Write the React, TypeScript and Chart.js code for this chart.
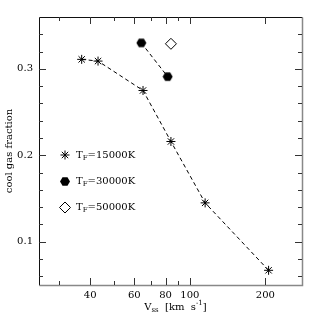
import React, { useEffect, useRef } from "react";
import { Chart, registerables } from "chart.js";

Chart.register(...registerables);

const v15 = [37, 43, 65, 84, 115, 206];
const f15 = [0.311, 0.309, 0.275, 0.216, 0.145, 0.067];
const v30 = [64, 81.5];
const f30 = [0.33, 0.291];
const v50 = [84];
const f50 = [0.329];

const xMajor = [40, 60, 80, 100, 200];
const xMinor = [30, 50, 70, 90];
const yMajor = [0.1, 0.2, 0.3];
const yMinor = [0.06, 0.08, 0.12, 0.14, 0.16, 0.18, 0.22, 0.24, 0.26, 0.28, 0.32, 0.34];
const legendTemps = ["15000K", "30000K", "50000K"];

const FONT = "DejaVu Serif";

function makeHexagon(): HTMLCanvasElement {
  const c = document.createElement("canvas");
  c.width = 11;
  c.height = 11;
  const ctx = c.getContext("2d")!;
  drawHex(ctx, 5.5, 5.5, 5);
  return c;
}

function drawHex(ctx: CanvasRenderingContext2D, x: number, y: number, r: number) {
  ctx.save();
  ctx.fillStyle = "#000";
  ctx.beginPath();
  for (let i = 0; i < 6; i++) {
    const a = (Math.PI / 3) * i;
    const px = x + r * Math.cos(a);
    const py = y + r * Math.sin(a);
    if (i === 0) ctx.moveTo(px, py);
    else ctx.lineTo(px, py);
  }
  ctx.closePath();
  ctx.fill();
  ctx.restore();
}

function drawStar(ctx: CanvasRenderingContext2D, x: number, y: number, r: number) {
  ctx.save();
  ctx.strokeStyle = "#000";
  ctx.lineWidth = 1;
  ctx.beginPath();
  for (let i = 0; i < 4; i++) {
    const a = (Math.PI / 4) * i;
    ctx.moveTo(x - r * Math.cos(a), y - r * Math.sin(a));
    ctx.lineTo(x + r * Math.cos(a), y + r * Math.sin(a));
  }
  ctx.stroke();
  ctx.restore();
}

function drawDiamond(ctx: CanvasRenderingContext2D, x: number, y: number, r: number) {
  ctx.save();
  ctx.strokeStyle = "#000";
  ctx.lineWidth = 1;
  ctx.beginPath();
  ctx.moveTo(x - r, y);
  ctx.lineTo(x, y - r);
  ctx.lineTo(x + r, y);
  ctx.lineTo(x, y + r);
  ctx.closePath();
  ctx.stroke();
  ctx.restore();
}

const decorPlugin = {
  id: "decor",
  afterDraw(chart: any) {
    const ctx: CanvasRenderingContext2D = chart.ctx;
    const { left, right, top, bottom } = chart.chartArea;
    const xs = chart.scales.x;
    const ys = chart.scales.y;
    ctx.save();
    ctx.lineWidth = 1;
    const L = Math.round(left) + 0.5;
    const R = Math.round(right) + 0.5;
    const T = Math.round(top) + 0.5;
    const B = Math.round(bottom) + 0.5;
    // frame: top & left dark, right & bottom gray
    ctx.strokeStyle = "#111";
    ctx.beginPath();
    ctx.moveTo(L, B);
    ctx.lineTo(L, T);
    ctx.lineTo(R, T);
    ctx.stroke();
    ctx.strokeStyle = "#888";
    ctx.lineWidth = 1.5;
    ctx.beginPath();
    ctx.moveTo(R, T);
    ctx.lineTo(R, B);
    ctx.lineTo(L, B);
    ctx.stroke();
    ctx.lineWidth = 1;
    ctx.strokeStyle = "#333";
    // ticks
    const tick = (vals: number[], len: number) => {
      ctx.beginPath();
      for (const v of vals) {
        const px = Math.round(xs.getPixelForValue(v)) + 0.5;
        ctx.moveTo(px, bottom);
        ctx.lineTo(px, bottom - len);
        ctx.moveTo(px, top);
        ctx.lineTo(px, top + len);
      }
      ctx.stroke();
    };
    const ytick = (vals: number[], len: number) => {
      ctx.beginPath();
      for (const v of vals) {
        const py = Math.round(ys.getPixelForValue(v)) + 0.5;
        ctx.moveTo(left, py);
        ctx.lineTo(left + len, py);
        ctx.moveTo(right, py);
        ctx.lineTo(right - len, py);
      }
      ctx.stroke();
    };
    tick(xMajor, 7);
    tick(xMinor, 4);
    ytick(yMajor, 7);
    ytick(yMinor, 4);

    ctx.fillStyle = "#000";
    // legend
    const rows = [155, 181.5, 207.5];
    const mx = 65;
    drawStar(ctx, mx, rows[0], 4.5);
    drawHex(ctx, mx, rows[1], 5);
    drawDiamond(ctx, mx, rows[2], 5.5);
    ctx.textBaseline = "middle";
    ctx.textAlign = "left";
    rows.forEach((ry, i) => {
      let tx = 76;
      ctx.font = `10px ${FONT}`;
      ctx.fillText("T", tx, ry);
      tx += ctx.measureText("T").width;
      ctx.font = `7px ${FONT}`;
      ctx.fillText("F", tx, ry + 3);
      tx += ctx.measureText("F").width;
      ctx.font = `10px ${FONT}`;
      ctx.fillText("=" + legendTemps[i], tx, ry);
    });

    // x title
    const cx = (left + right) / 2 + 5;
    const ty = 307;
    const parts: [string, number, number][] = [
      ["V", 10, 0],
      ["ss", 7, 3],
      ["  [km  s", 10, 0],
      ["-1", 7, -4],
      ["]", 10, 0],
    ];
    let total = 0;
    for (const [t, s] of parts) {
      ctx.font = `${s}px ${FONT}`;
      total += ctx.measureText(t).width;
    }
    let tx = cx - total / 2;
    for (const [t, s, dy] of parts) {
      ctx.font = `${s}px ${FONT}`;
      ctx.fillText(t, tx, ty + dy);
      tx += ctx.measureText(t).width;
    }

    // y title
    ctx.save();
    ctx.translate(9, (top + bottom) / 2);
    ctx.rotate(-Math.PI / 2);
    ctx.textAlign = "center";
    ctx.font = `10px ${FONT}`;
    ctx.fillText("cool gas fraction", 0, 0);
    ctx.restore();

    ctx.restore();
  },
};

export default function App() {
  const ref = useRef<HTMLCanvasElement | null>(null);
  useEffect(() => {
    if (!ref.current) return;
    const hex = makeHexagon();
    const chart = new Chart(ref.current, {
      type: "scatter",
      data: {
        datasets: [
          {
            label: "15000K",
            data: v15.map((v, i) => ({ x: v, y: f15[i] })),
            showLine: true,
            borderColor: "#000",
            borderWidth: 1,
            borderDash: [4, 3],
            pointStyle: "star",
            pointRadius: 4.5,
            pointBorderColor: "#000",
            pointBorderWidth: 1,
            pointBackgroundColor: "#000",
          },
          {
            label: "30000K",
            data: v30.map((v, i) => ({ x: v, y: f30[i] })),
            showLine: true,
            borderColor: "#000",
            borderWidth: 1,
            borderDash: [4, 3],
            pointStyle: hex as any,
            pointRadius: 5,
          },
          {
            label: "50000K",
            data: v50.map((v, i) => ({ x: v, y: f50[i] })),
            showLine: false,
            pointStyle: "rectRot",
            pointRadius: 5.5,
            pointBorderColor: "#000",
            pointBorderWidth: 1,
            pointBackgroundColor: "rgba(0,0,0,0)",
          },
        ],
      },
      options: {
        animation: false,
        responsive: false,
        layout: { padding: { left: 0, top: 17, right: 17, bottom: 0 } },
        plugins: { legend: { display: false }, tooltip: { enabled: false } },
        scales: {
          x: {
            type: "logarithmic",
            min: 25,
            max: 280,
            grid: { display: false, drawTicks: false },
            border: { display: false },
            afterFit: (s: any) => {
              s.height = 34;
            },
            afterBuildTicks: (s: any) => {
              s.ticks = xMajor.map((v) => ({ value: v }));
            },
            ticks: {
              autoSkip: false,
              maxRotation: 0,
              padding: 4,
              color: "#000",
              font: { family: FONT, size: 10 },
              callback: (v: any) => String(v),
            },
          },
          y: {
            type: "linear",
            min: 0.05,
            max: 0.36,
            grid: { display: false, drawTicks: false },
            border: { display: false },
            afterFit: (s: any) => {
              s.width = 39;
            },
            afterBuildTicks: (s: any) => {
              s.ticks = yMajor.map((v) => ({ value: v }));
            },
            ticks: {
              padding: 6,
              color: "#000",
              font: { family: FONT, size: 10 },
              callback: (v: any) => Number(v).toFixed(1),
            },
          },
        },
      },
      plugins: [decorPlugin],
    });
    return () => chart.destroy();
  }, []);
  return (
    <div style={{ position: "absolute", left: 0, top: 0, width: 319, height: 319, background: "#fff" }}>
      <canvas ref={ref} width={319} height={319} />
    </div>
  );
}
